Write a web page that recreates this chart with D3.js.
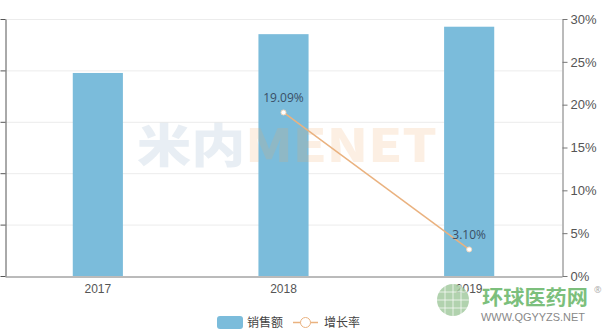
<!DOCTYPE html>
<html><head><meta charset="utf-8">
<script src="https://cdn.jsdelivr.net/npm/d3@7"></script>
<style>
body{margin:0;background:#fff;}
svg{display:block;font-family:"Open Sans","Noto Sans CJK SC",sans-serif;}
</style></head>
<body><svg id="c" width="611" height="335"></svg>
<script>
const categories = ["2017","2018","2019"];
const salesValues = [39.5, 47.05, 48.5];
const growthValues = [null, 19.09, 3.10];
const growthLabels = ["", "19.09%", "3.10%"];
const leftTicks = [0,10,20,30,40,50];
const rightTicks = [0,5,10,15,20,25,30];

const svg = d3.select("#c");
const m = {l:5, r:562, t:19, b:276};
const x = d3.scaleBand().domain(categories).range([m.l, m.r]).paddingInner(0.73).paddingOuter(0.365);
const yL = d3.scaleLinear().domain([0,50]).range([m.b, m.t]);
const yR = d3.scaleLinear().domain([0,30]).range([m.b, m.t]);

// grid
svg.append("g").selectAll("line").data(leftTicks.slice(1)).join("line")
  .attr("x1", m.l).attr("x2", m.r).attr("y1", d=>yL(d)+0.5).attr("y2", d=>yL(d)+0.5)
  .attr("stroke","#ececec");

// bars
svg.append("g").selectAll("rect").data(categories).join("rect")
  .attr("x", d=>x(d)).attr("width", x.bandwidth())
  .attr("y", (d,i)=>yL(salesValues[i])).attr("height",(d,i)=>m.b-yL(salesValues[i]))
  .attr("fill","#7bbcdb");

// left axis
const gl = svg.append("g").attr("transform",`translate(${m.l+0.5},0)`)
  .call(d3.axisLeft(yL).tickValues(leftTicks).tickFormat("").tickSize(5).tickSizeOuter(0));
gl.selectAll("path,line").attr("stroke","#555");

// bottom axis
const gb = svg.append("g").attr("transform",`translate(0,${m.b+0.5})`)
  .call(d3.axisBottom(x).tickSize(0).tickPadding(8));
gb.select("path").attr("stroke","#777");
gb.selectAll("text").attr("fill","#555").attr("font-size",12);

// right axis
const gr = svg.append("g").attr("transform",`translate(${m.r+0.5},0)`)
  .call(d3.axisRight(yR).tickValues(rightTicks).tickFormat(d=>d+"%").tickSize(5).tickSizeOuter(0).tickPadding(3));
gr.selectAll("path,line").attr("stroke","#777");
gr.selectAll("text").attr("fill","#555").attr("font-size",13);

// watermark
const wm = svg.append("text").attr("x",137).attr("y",162)
  .attr("font-family","'Noto Sans CJK SC',sans-serif").attr("font-weight",900).attr("font-size",46)
  .attr("opacity",0.17).attr("textLength",300).attr("lengthAdjust","spacingAndGlyphs");
wm.append("tspan").attr("fill","#7d9fbf").text("米内");
wm.append("tspan").attr("fill","#f2a660").text("MENET");

// line
const pts = categories.map((c,i)=>({c, v:growthValues[i], l:growthLabels[i]})).filter(d=>d.v!==null);
const cx = d=>x(d.c)+x.bandwidth()/2;
svg.append("path").datum(pts)
  .attr("d", d3.line().x(cx).y(d=>yR(d.v)))
  .attr("fill","none").attr("stroke","#eab27f").attr("stroke-width",1.5);
svg.append("g").selectAll("circle").data(pts).join("circle")
  .attr("cx",cx).attr("cy",d=>yR(d.v)).attr("r",2.5)
  .attr("fill","#fff").attr("stroke","#f3d7bd").attr("stroke-width",1);
svg.append("g").selectAll("text").data(pts).join("text")
  .attr("x",cx).attr("y",d=>yR(d.v)-10).attr("text-anchor","middle")
  .attr("fill","#3a4f66").attr("font-size",12).text(d=>d.l);

// legend
const lg = svg.append("g");
lg.append("rect").attr("x",217).attr("y",316).attr("width",26).attr("height",13).attr("rx",3).attr("fill","#7bbcdb");
lg.append("text").attr("x",247).attr("y",327).attr("font-size",12).attr("fill","#444").text("销售额");
lg.append("line").attr("x1",293).attr("x2",318).attr("y1",322.5).attr("y2",322.5).attr("stroke","#eab27f").attr("stroke-width",1.5);
lg.append("circle").attr("cx",305.5).attr("cy",322.5).attr("r",5).attr("fill","#fff").attr("stroke","#eab27f").attr("stroke-width",1);
lg.append("text").attr("x",324).attr("y",327).attr("font-size",12).attr("fill","#444").text("增长率");

// logo
const lo = svg.append("g");
lo.append("circle").attr("cx",453).attr("cy",300).attr("r",16).attr("fill","#9ec79a").attr("opacity",0.8);
[-8,0,8].forEach(o=>{
  lo.append("line").attr("x1",437).attr("x2",469).attr("y1",300+o).attr("y2",300+o).attr("stroke","#fff").attr("stroke-width",1).attr("opacity",0.7);
  lo.append("line").attr("y1",284).attr("y2",316).attr("x1",453+o).attr("x2",453+o).attr("stroke","#fff").attr("stroke-width",1).attr("opacity",0.7);
});
lo.append("text").attr("x",482).attr("y",305).attr("font-family","'Noto Sans CJK SC',sans-serif").attr("font-weight",700)
  .attr("font-size",20).attr("fill","#7cbf7c").attr("textLength",106).attr("lengthAdjust","spacingAndGlyphs").text("环球医药网");
lo.append("text").attr("x",594).attr("y",293).attr("font-size",9).attr("fill","#aaa").text("®");
lo.append("text").attr("x",481).attr("y",321).attr("font-family","Arial,'Liberation Sans',sans-serif")
  .attr("font-size",10.5).attr("fill","#888").attr("textLength",104).attr("lengthAdjust","spacingAndGlyphs").text("WWW.QGYYZS.NET");
</script></body></html>
